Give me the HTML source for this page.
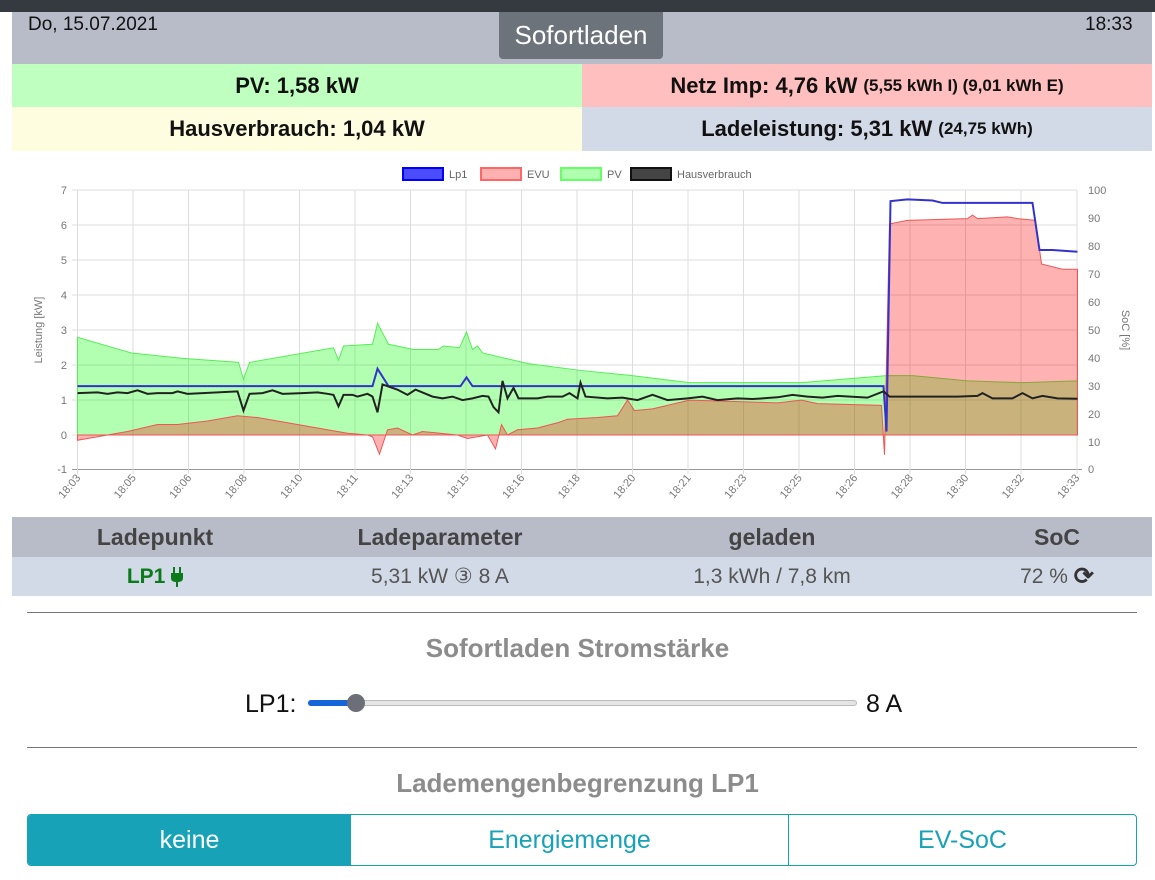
<!DOCTYPE html>
<html><head><meta charset="utf-8"><style>
*{margin:0;padding:0;box-sizing:border-box}
body{width:1155px;height:880px;background:#fff;font-family:"Liberation Sans",sans-serif;position:relative;overflow:hidden}
.a{position:absolute}
.c{display:flex;align-items:center;justify-content:center;font-weight:bold;font-size:22px;color:#111}
.c small{font-size:17px;margin-left:6px}
.th{position:absolute;top:517px;height:40px;display:flex;align-items:center;justify-content:center;font-weight:bold;font-size:23px;color:#444}
.td{position:absolute;top:557px;height:39px;display:flex;align-items:center;justify-content:center;font-size:21px;color:#555}
</style></head><body>
<div class="a" style="left:0;top:0;width:1155px;height:12px;background:#343a40"></div>
<div class="a" style="left:12px;top:12px;width:1140px;height:52px;background:#b8bcc9"></div>
<div class="a" style="left:28px;top:14px;font-size:19px;color:#111">Do, 15.07.2021</div>
<div class="a" style="left:1085px;top:14px;font-size:19px;color:#111">18:33</div>
<div class="a" style="left:499px;top:12px;width:164px;height:47px;background:#6c737b;border-radius:0 0 4px 4px;color:#fff;font-size:26px;display:flex;align-items:center;justify-content:center">Sofortladen</div>
<div class="a c" style="left:12px;top:64px;width:570px;height:43px;background:#bfffbf">PV: 1,58 kW</div>
<div class="a c" style="left:582px;top:64px;width:570px;height:43px;background:#ffbfbf">Netz Imp: 4,76 kW<small>(5,55 kWh I) (9,01 kWh E)</small></div>
<div class="a c" style="left:12px;top:107px;width:570px;height:44px;background:#fffddf">Hausverbrauch: 1,04 kW</div>
<div class="a c" style="left:582px;top:107px;width:570px;height:44px;background:#d3dae7">Ladeleistung: 5,31 kW<small>(24,75 kWh)</small></div>

<svg class="a" style="left:0;top:155px" width="1155" height="360" viewBox="0 155 1155 360" font-family="Liberation Sans, sans-serif">
<g font-size="11" fill="#666">
<rect x="403" y="168" width="40" height="12" fill="rgba(0,0,255,0.7)" stroke="#00f" stroke-width="2"/><text x="449" y="178">Lp1</text>
<rect x="481" y="168" width="40" height="12" fill="#ffb0b0" stroke="#f66" stroke-width="2"/><text x="527" y="178">EVU</text>
<rect x="561" y="168" width="40" height="12" fill="#b0ffb0" stroke="#6f6" stroke-width="2"/><text x="607" y="178">PV</text>
<rect x="631" y="168" width="40" height="12" fill="#444" stroke="#111" stroke-width="2"/><text x="677" y="178">Hausverbrauch</text>
</g>
<g stroke="#ddd" stroke-width="1">
<line x1="72" x2="1077" y1="190" y2="190"/><line x1="72" x2="1077" y1="225" y2="225"/><line x1="72" x2="1077" y1="260" y2="260"/><line x1="72" x2="1077" y1="295" y2="295"/><line x1="72" x2="1077" y1="330" y2="330"/><line x1="72" x2="1077" y1="365" y2="365"/><line x1="72" x2="1077" y1="400" y2="400"/><line x1="72" x2="1077" y1="435" y2="435"/>
</g>
<line x1="72" x2="1082" y1="469.5" y2="469.5" stroke="#999"/>
<g stroke="#ddd">
<line x1="77.5" x2="77.5" y1="190" y2="474"/><line x1="133" x2="133" y1="190" y2="474"/><line x1="188.5" x2="188.5" y1="190" y2="474"/><line x1="244" x2="244" y1="190" y2="474"/><line x1="299.5" x2="299.5" y1="190" y2="474"/><line x1="355" x2="355" y1="190" y2="474"/><line x1="410.5" x2="410.5" y1="190" y2="474"/><line x1="466" x2="466" y1="190" y2="474"/><line x1="521.5" x2="521.5" y1="190" y2="474"/><line x1="577" x2="577" y1="190" y2="474"/><line x1="632.5" x2="632.5" y1="190" y2="474"/><line x1="688" x2="688" y1="190" y2="474"/><line x1="743.5" x2="743.5" y1="190" y2="474"/><line x1="799" x2="799" y1="190" y2="474"/><line x1="854.5" x2="854.5" y1="190" y2="474"/><line x1="910" x2="910" y1="190" y2="474"/><line x1="965.5" x2="965.5" y1="190" y2="474"/><line x1="1021" x2="1021" y1="190" y2="474"/><line x1="1077" x2="1077" y1="190" y2="474"/>
</g>
<g font-size="11" fill="#777" text-anchor="end">
<text x="67" y="194">7</text><text x="67" y="229">6</text><text x="67" y="264">5</text><text x="67" y="299">4</text><text x="67" y="334">3</text><text x="67" y="369">2</text><text x="67" y="404">1</text><text x="67" y="439">0</text><text x="67" y="473">-1</text>
</g>
<g font-size="11" fill="#777">
<text x="1088" y="194">100</text><text x="1088" y="222">90</text><text x="1088" y="250">80</text><text x="1088" y="278">70</text><text x="1088" y="306">60</text><text x="1088" y="334">50</text><text x="1088" y="362">40</text><text x="1088" y="390">30</text><text x="1088" y="418">20</text><text x="1088" y="446">10</text><text x="1088" y="473">0</text>
</g>
<text transform="translate(42,330) rotate(-90)" font-size="11" fill="#777" text-anchor="middle">Leistung [kW]</text>
<text transform="translate(1122,330) rotate(90)" font-size="11" fill="#777" text-anchor="middle">SoC [%]</text>
<g font-size="11" fill="#777" text-anchor="end">
<text transform="translate(81,478) rotate(-50)">18:03</text><text transform="translate(136.5,478) rotate(-50)">18:05</text><text transform="translate(192,478) rotate(-50)">18:06</text><text transform="translate(247.5,478) rotate(-50)">18:08</text><text transform="translate(303,478) rotate(-50)">18:10</text><text transform="translate(358.5,478) rotate(-50)">18:11</text><text transform="translate(414,478) rotate(-50)">18:13</text><text transform="translate(469.5,478) rotate(-50)">18:15</text><text transform="translate(525,478) rotate(-50)">18:16</text><text transform="translate(580.5,478) rotate(-50)">18:18</text><text transform="translate(636,478) rotate(-50)">18:20</text><text transform="translate(691.5,478) rotate(-50)">18:21</text><text transform="translate(747,478) rotate(-50)">18:23</text><text transform="translate(802.5,478) rotate(-50)">18:25</text><text transform="translate(858,478) rotate(-50)">18:26</text><text transform="translate(913.5,478) rotate(-50)">18:28</text><text transform="translate(969,478) rotate(-50)">18:30</text><text transform="translate(1024.5,478) rotate(-50)">18:32</text><text transform="translate(1080,478) rotate(-50)">18:33</text>
</g>
<g transform="translate(77.5,435) scale(1,-34.9)">
<path d="M0,0 L0,2.8 54,2.35 104,2.2 161,2.08 166,1.6 172,2.08 256,2.5 261,2.15 266,2.55 295,2.6 300,3.2 311,2.6 336,2.45 361,2.45 366,2.55 382,2.5 389,2.95 395,2.45 400,2.55 405,2.35 450,2.05 503,1.85 555,1.7 612,1.5 724,1.5 809,1.7 835,1.7 890,1.55 945,1.5 1000,1.55 L1000,0Z" fill="rgba(0,255,0,0.3)" stroke="#5e5" stroke-width="1" vector-effect="non-scaling-stroke"/>
<path d="M0,0 L0,-0.15 30,0 50,0.1 80,0.3 100,0.3 130,0.4 160,0.55 180,0.5 210,0.35 240,0.2 270,0.05 290,0 295,-0.05 302,-0.55 310,0.15 320,0.2 335,0 345,0.1 380,0 390,-0.1 410,0 418,-0.4 424,0.3 430,0 440,0.15 460,0.2 480,0.35 490,0.45 520,0.5 540,0.55 550,1.0 557,0.7 575,0.75 612,1.0 700,0.92 724,1.0 740,0.9 804,0.85 807,-0.57 812,6.05 830,6.15 890,6.2 895,6.3 900,6.2 930,6.25 940,6.2 958,6.15 964,4.9 985,4.75 1000,4.75 L1000,0Z" fill="rgba(255,0,0,0.3)" stroke="#e55" stroke-width="1" vector-effect="non-scaling-stroke"/>
<path d="M0,1.4 L295,1.4 300,1.9 311,1.4 383,1.4 389,1.65 395,1.4 806,1.4 809,0.1 813,6.7 830,6.75 855,6.72 865,6.65 955,6.65 962,5.3 975,5.3 1000,5.25" fill="none" stroke="#33c" stroke-width="2" vector-effect="non-scaling-stroke"/>
<path d="M0,1.2 L20,1.22 30,1.18 40,1.22 50,1.2 60,1.28 70,1.18 80,1.2 95,1.2 100,1.25 110,1.18 160,1.25 166,0.7 172,1.18 185,1.2 195,1.28 205,1.18 225,1.2 240,1.22 250,1.18 256,1.15 261,0.82 266,1.15 275,1.15 280,1.1 290,1.18 295,1.1 300,0.65 305,1.45 320,1.3 330,1.15 338,1.3 355,1.1 365,1.05 375,1.1 385,1.0 395,1.05 405,1.12 411,1.1 416,0.8 421,0.65 425,1.55 430,1.05 436,1.35 441,1.05 460,1.05 470,1.1 485,1.1 492,1.2 500,1.05 503,1.5 508,1.1 530,1.05 545,1.07 560,1.0 575,1.15 590,1.0 610,1.05 625,1.1 640,1.0 660,1.05 675,1.03 700,1.08 715,1.15 730,1.1 745,1.07 760,1.12 790,1.07 806,1.25 812,1.1 850,1.1 880,1.1 900,1.12 905,1.2 915,1.05 935,1.05 945,1.2 955,1.05 965,1.12 980,1.05 1000,1.04" fill="none" stroke="#222" stroke-width="2" vector-effect="non-scaling-stroke"/>
</g>
</svg>

<div class="a" style="left:12px;top:517px;width:1140px;height:40px;background:#b8bcc9"></div>
<div class="a" style="left:12px;top:557px;width:1140px;height:39px;background:#d3dae7"></div>
<div class="th" style="left:55px;width:200px">Ladepunkt</div>
<div class="th" style="left:340px;width:200px">Ladeparameter</div>
<div class="th" style="left:672px;width:200px">geladen</div>
<div class="th" style="left:957px;width:200px">SoC</div>
<div class="td" style="left:55px;width:200px;color:#0a7a1a;font-weight:bold">LP1&nbsp;<svg width="12" height="20" viewBox="0 0 12 20"><rect x="2" y="0" width="2" height="6" fill="#0a7a1a"/><rect x="8" y="0" width="2" height="6" fill="#0a7a1a"/><path d="M0,6 H12 V11 Q12,15 7,15 V20 H5 V15 Q0,15 0,11Z" fill="#0a7a1a"/></svg></div>
<div class="td" style="left:340px;width:200px">5,31 kW ③ 8 A</div>
<div class="td" style="left:672px;width:200px">1,3 kWh / 7,8 km</div>
<div class="td" style="left:957px;width:200px">72 %&nbsp;<b style="color:#333;font-size:24px">&#10227;</b></div>

<div class="a" style="left:27px;top:612px;width:1110px;height:1px;background:#777"></div>
<div class="a" style="left:0;top:633px;width:1155px;text-align:center;font-weight:bold;font-size:26px;color:#8c8c8c">Sofortladen Stromstärke</div>
<div class="a" style="left:245px;top:690px;font-size:25px;color:#111">LP1:</div>
<div class="a" style="left:308px;top:700px;width:549px;height:6px;border-radius:3px;background:#e4e4e4;border:1px solid #bbb"></div>
<div class="a" style="left:308px;top:700px;width:48px;height:6px;border-radius:3px;background:#1565d8"></div>
<div class="a" style="left:347px;top:694px;width:18px;height:18px;border-radius:50%;background:#6c6f78"></div>
<div class="a" style="left:866px;top:690px;font-size:25px;color:#111">8 A</div>
<div class="a" style="left:27px;top:747px;width:1110px;height:1px;background:#777"></div>
<div class="a" style="left:0;top:768px;width:1155px;text-align:center;font-weight:bold;font-size:26px;color:#8c8c8c">Lademengenbegrenzung LP1</div>
<div class="a" style="left:27px;top:814px;width:1110px;height:52px;border:1px solid #17a2b8;border-radius:4px;overflow:hidden;display:flex;font-size:25px">
<div style="width:323px;background:#17a2b8;color:#fff;display:flex;align-items:center;justify-content:center">keine</div>
<div style="width:438px;color:#17a2b8;border-right:1px solid #17a2b8;display:flex;align-items:center;justify-content:center">Energiemenge</div>
<div style="flex:1;color:#17a2b8;display:flex;align-items:center;justify-content:center">EV-SoC</div>
</div>
</body></html>
